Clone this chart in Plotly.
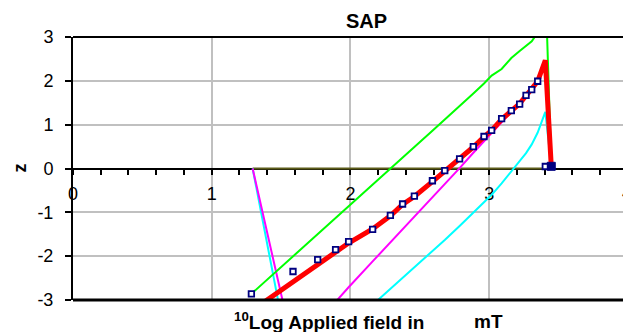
import plotly.graph_objects as go

# Measured data points: log10 of applied field (mT) and z
field_log = [1.286, 1.586, 1.764, 1.893, 1.987, 2.160, 2.288, 2.376, 2.461, 2.591,
             2.680, 2.787, 2.886, 2.963, 3.018, 3.090, 3.160, 3.220, 3.266, 3.307,
             3.350, 3.405, 3.448]
z_measured = [-2.86, -2.35, -2.08, -1.85, -1.67, -1.39, -1.07, -0.81, -0.63, -0.28,
              -0.05, 0.22, 0.50, 0.73, 0.87, 1.14, 1.32, 1.47, 1.67, 1.80,
              1.99, 0.046, 0.05]

# Model curve (red)
z_model = [-3.25, -2.60, -2.21, -1.92, -1.70, -1.38, -1.08, -0.82, -0.64, -0.30,
           -0.07, 0.21, 0.49, 0.72, 0.87, 1.12, 1.32, 1.48, 1.66, 1.81,
           1.99, 2.47, 0.05]

# Upper bound (green)
z_upper = [-2.86, -2.01, -1.50, -1.13, -0.87, -0.37, 0.00, 0.25, 0.49, 0.86,
           1.11, 1.42, 1.71, 1.94, 2.12, 2.27, 2.52, 2.68, 2.80, 2.90,
           3.10, 4.28, 0.05]

# Intermediate curve (magenta)
mag_x = [1.295] + field_log[1:]
z_mag = [0.00, -4.06, -3.50, -3.04, -2.71, -2.12, -1.69, -1.39, -1.10, -0.65,
         -0.35, 0.01, 0.36, 0.62, 0.82, 1.07, 1.30, 1.49, 1.65, 1.79,
         1.97, 2.45, 0.05]

# Lower curve (cyan)
cyan_x = [1.295] + field_log[1:]
z_cyan = [0.00, -4.77, -4.20, -3.80, -3.55, -3.11, -2.75, -2.50, -2.26, -1.90,
          -1.63, -1.31, -1.01, -0.78, -0.60, -0.34, -0.07, 0.16, 0.35, 0.55,
          0.82, 1.29, 0.05]

# Reference baseline (olive)
base_x = [1.295, 3.448]
base_z = [0.0, 0.0]

# Axis ticks
y_ticks = [-3, -2, -1, 0, 1, 2, 3]
y_labels = ["-3", "-2", "-1", "0", "1", "2", "3"]
x_ticks = [0, 1, 2, 3]
x_labels = ["0", "1", "2", "3"]

FONT = "Liberation Sans"

fig = go.Figure()
fig.add_trace(go.Scatter(x=base_x, y=base_z, mode="lines",
                         line=dict(color="#5c5c1a", width=2)))
fig.add_trace(go.Scatter(x=cyan_x, y=z_cyan, mode="lines",
                         line=dict(color="#00ffff", width=2)))
fig.add_trace(go.Scatter(x=mag_x, y=z_mag, mode="lines",
                         line=dict(color="#ff00ff", width=2)))
fig.add_trace(go.Scatter(x=field_log, y=z_upper, mode="lines",
                         line=dict(color="#00ff00", width=2)))
fig.add_trace(go.Scatter(x=field_log, y=z_model, mode="lines",
                         line=dict(color="#ff0000", width=5)))
fig.add_trace(go.Scatter(x=field_log[:-1], y=z_measured[:-1], mode="markers",
                         marker=dict(symbol="square", size=5.5, color="white",
                                     line=dict(color="#000080", width=1.8))))
fig.add_trace(go.Scatter(x=field_log[-1:], y=z_measured[-1:], mode="markers",
                         marker=dict(symbol="square", size=8, color="#000080",
                                     line=dict(color="#000080", width=1))))

fig.update_layout(
    width=623, height=332,
    margin=dict(l=73, r=0, t=37, b=32),
    paper_bgcolor="white", plot_bgcolor="white",
    showlegend=False,
    font=dict(family=FONT, color="black", size=18),
    xaxis=dict(range=[0, 3.965], anchor="free", position=0.5,
               showline=True, linecolor="black", linewidth=2,
               ticks="outside", ticklen=5, tickwidth=1.5, tickcolor="black",
               tickmode="array", tickvals=x_ticks, ticktext=x_labels,
               ticklabelstandoff=4,
               showgrid=True, gridcolor="#c0c0c0", gridwidth=1.5,
               zeroline=False, layer="below traces",
               minor=dict(dtick=0.2, tick0=0, ticks="outside", ticklen=5,
                          tickwidth=1.5, tickcolor="black", showgrid=False),
               tickfont=dict(size=18)),
    yaxis=dict(range=[-3, 3], tickmode="array", tickvals=y_ticks,
               ticktext=y_labels,
               showline=True, linecolor="black", linewidth=2,
               ticks="outside", ticklen=6, tickwidth=1.5, tickcolor="black",
               ticklabelstandoff=8,
               showgrid=True, gridcolor="#c0c0c0", gridwidth=1.5,
               zeroline=False, tickfont=dict(size=18)),
    shapes=[
        dict(type="line", xref="paper", yref="paper", x0=0, x1=1, y0=1, y1=1,
             line=dict(color="black", width=2)),
        dict(type="line", xref="paper", yref="paper", x0=0, x1=1, y0=0, y1=0,
             line=dict(color="black", width=3)),
    ],
    annotations=[
        dict(text="<b>SAP</b>", xref="paper", yref="paper", x=0.533, y=1.061,
             xanchor="center", yanchor="middle", showarrow=False,
             font=dict(size=20)),
        dict(text="<b>z</b>", xref="paper", yref="paper", x=-0.098, y=0.5,
             xanchor="center", yanchor="middle", showarrow=False,
             textangle=-90, font=dict(size=18)),
        dict(text="<b><sup>10</sup>Log Applied field in</b>", xref="paper",
             yref="paper", x=0.465, y=-0.08, xanchor="center", yanchor="middle",
             showarrow=False, font=dict(size=19)),
        dict(text="<b>mT</b>", xref="paper", yref="paper", x=0.756, y=-0.08,
             xanchor="center", yanchor="middle", showarrow=False,
             font=dict(size=19)),
        dict(text="4", xref="paper", yref="paper", x=1.007, y=0.407,
             xanchor="center", yanchor="middle", showarrow=False,
             font=dict(size=18)),
    ],
)

fig.write_html("out.html")
